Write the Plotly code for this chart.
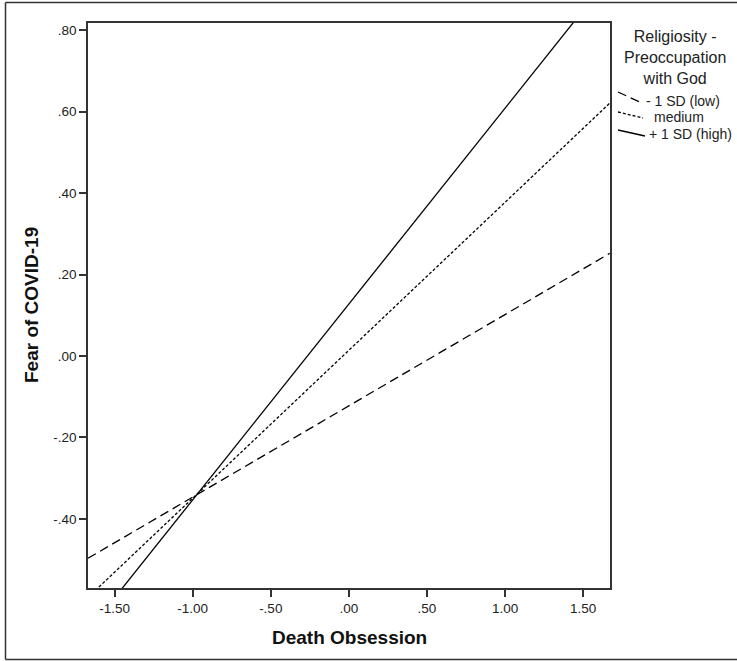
import plotly.graph_objects as go

# ---- data ----
death_obsession = [-1.67, 1.67]
fear_low = [-0.497, 0.252]      # -1 SD (low)
fear_medium = [-0.593, 0.621]   # medium
fear_high = [-0.676, 0.931]     # +1 SD (high)

x_tickvals = [-1.5, -1.0, -0.5, 0.0, 0.5, 1.0, 1.5]
x_ticktext = ["-1.50", "-1.00", "-.50", ".00", ".50", "1.00", "1.50"]
y_tickvals = [-0.4, -0.2, 0.0, 0.2, 0.4, 0.6, 0.8]
y_ticktext = ["-.40", "-.20", ".00", ".20", ".40", ".60", ".80"]

legend_title = "Religiosity -<br>Preoccupation<br>with God"
legend_labels = ["- 1 SD (low)", "medium", "+ 1 SD (high)"]
dashes = ["9px,5px", "3px,2px", "solid"]

W, H = 737, 661
L, R, T, B = 88, 610, 23, 588
FONT = "Liberation Sans, Arial, sans-serif"


def px(x):
    return (x - L) / (R - L)


def py(y):
    return (B - y) / (B - T)


fig = go.Figure()
for ys, d, name in zip([fear_low, fear_medium, fear_high], dashes, legend_labels):
    fig.add_trace(go.Scatter(x=death_obsession, y=ys, mode="lines", name=name,
                             line=dict(color="black", width=1.3, dash=d),
                             showlegend=False, hoverinfo="skip"))

axis_common = dict(showline=True, linecolor="#333333", linewidth=1.5, mirror=True,
                   ticks="outside", ticklen=7, tickwidth=1.5, tickcolor="#333333",
                   showgrid=False, zeroline=False,
                   tickfont=dict(family=FONT, size=13.5, color="#222222"))

fig.update_xaxes(range=[-1.67, 1.672], tickvals=x_tickvals, ticktext=x_ticktext, **axis_common)
fig.update_yaxes(range=[-0.57, 0.818], tickvals=y_tickvals, ticktext=y_ticktext, **axis_common)

shapes = []
# outer frame (top, left, bottom)
frame = dict(color="#333333", width=1.5)
shapes.append(dict(type="line", xref="paper", yref="paper", x0=px(5.5), x1=px(745), y0=py(2.5), y1=py(2.5), line=frame))
shapes.append(dict(type="line", xref="paper", yref="paper", x0=px(5.5), x1=px(5.5), y0=py(2.5), y1=py(659.5), line=frame))
shapes.append(dict(type="line", xref="paper", yref="paper", x0=px(5.5), x1=px(745), y0=py(659.5), y1=py(659.5), line=frame))

# legend samples (short sloped segments)
samples = [((618, 92), (642, 103)), ((618, 112), (643, 118)), ((618, 130), (645, 136))]
for ((x0, y0), (x1, y1)), d in zip(samples, dashes):
    shapes.append(dict(type="line", xref="paper", yref="paper", x0=px(x0), y0=py(y0), x1=px(x1), y1=py(y1),
                       line=dict(color="black", width=1.3, dash=d)))

annotations = [
    dict(text="<b>Death Obsession</b>", xref="paper", yref="paper", x=px(349), y=py(637), showarrow=False,
         font=dict(family=FONT, size=19, color="#111111"), xanchor="center", yanchor="middle"),
    dict(text="<b>Fear of COVID-19</b>", xref="paper", yref="paper", x=px(31), y=py(305), showarrow=False,
         font=dict(family=FONT, size=19, color="#111111"), xanchor="center", yanchor="middle",
         textangle=-90),
    dict(text=legend_title, xref="paper", yref="paper", x=px(675), y=py(57.5), showarrow=False,
         font=dict(family=FONT, size=16, color="#222222"), xanchor="center", yanchor="middle",
         align="center"),
]
label_pos = [(644, 101), (652, 117), (647, 134)]
for (lx, ly), lab in zip(label_pos, legend_labels):
    annotations.append(dict(text=lab, xref="paper", yref="paper", x=px(lx), y=py(ly), showarrow=False,
                            font=dict(family=FONT, size=14, color="#222222"),
                            xanchor="left", yanchor="middle"))

fig.update_layout(width=W, height=H, margin=dict(l=L, r=W - R, t=T, b=H - B),
                  paper_bgcolor="white", plot_bgcolor="white",
                  shapes=shapes, annotations=annotations, showlegend=False)

fig.write_html("out.html", config={"displayModeBar": False},
               post_script="document.body.style.margin='0';")
